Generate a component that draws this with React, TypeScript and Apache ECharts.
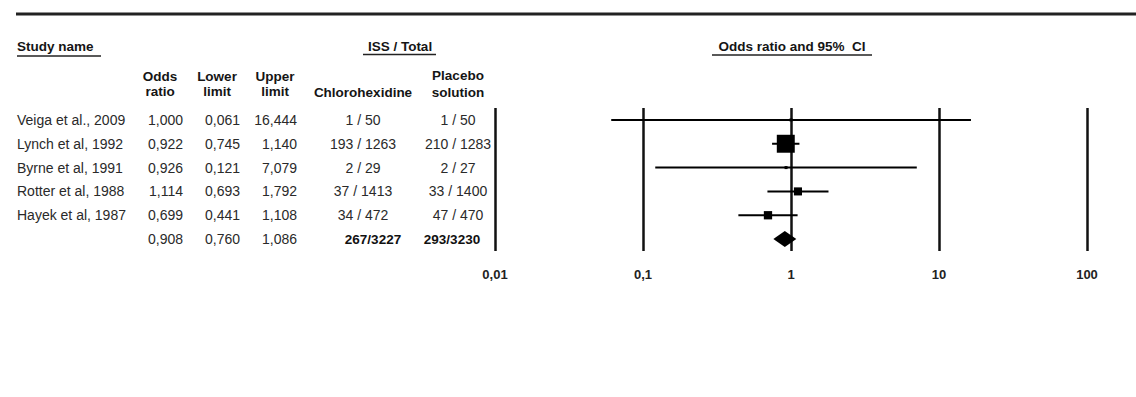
import React, { useEffect, useRef } from "react";
import * as echarts from "echarts";

// Study rows
const studyNames = [
  "Veiga et al., 2009",
  "Lynch et al, 1992",
  "Byrne et al, 1991",
  "Rotter et al, 1988",
  "Hayek et al, 1987",
];
const oddsRatio = [1.0, 0.922, 0.926, 1.114, 0.699];
const lowerLimit = [0.061, 0.745, 0.121, 0.693, 0.441];
const upperLimit = [16.444, 1.14, 7.079, 1.792, 1.108];
// Relative weights (%) that set the box size of each study
const studyWeight = [0.4, 69.8, 0.8, 14.1, 14.9];
const chlorhexidineEvents = ["1 / 50", "193 / 1263", "2 / 29", "37 / 1413", "34 / 472"];
const placeboEvents = ["1 / 50", "210 / 1283", "2 / 27", "33 / 1400", "47 / 470"];

// Pooled result
const pooledOdds = 0.908;
const pooledLower = 0.76;
const pooledUpper = 1.086;
const chlorhexidineTotal = "267/3227";
const placeboTotal = "293/3230";

// Log-scale ticks of the odds-ratio axis
const axisMin = 0.01;
const axisMax = 100;

const FONT = "'Liberation Sans', Arial, sans-serif";
const ROW_COUNT = studyNames.length + 1;
const rowIndex = Array.from({ length: ROW_COUNT }, (_, i) => String(i));

const fmt = (v: number) => v.toFixed(3).replace(".", ",");

const rowStyle = { fontFamily: FONT, fontSize: 14, color: "#2a2a2a" };

function columnAxis(offset: number, align: string, formatter: (v: string, i: number) => string, rich?: any) {
  return {
    type: "category",
    gridIndex: 0,
    position: "left",
    offset,
    inverse: true,
    data: rowIndex,
    axisLine: { show: false },
    axisTick: { show: false },
    splitLine: { show: false },
    axisLabel: {
      ...rowStyle,
      interval: 0,
      margin: 0,
      align,
      formatter,
      rich,
    },
  };
}

export default function App() {
  const ref = useRef<HTMLDivElement>(null);

  useEffect(() => {
    if (!ref.current) return;
    const chart = echarts.init(ref.current, null, { renderer: "svg" });

    const gridLeft = 495;
    const boldRich = {
      bl: { fontFamily: FONT, fontSize: 13.5, fontWeight: "bold", color: "#111", padding: [0, 0, 0, 20] },
      br: { fontFamily: FONT, fontSize: 13.5, fontWeight: "bold", color: "#111", padding: [0, 12, 0, 0] },
    };

    const studyData = studyNames.map((_, i) => [i, oddsRatio[i], lowerLimit[i], upperLimit[i], studyWeight[i]]);

    const headerText = (text: string, x: number, y: number, align = "center") => ({
      type: "text",
      x,
      y,
      style: {
        text,
        fontFamily: FONT,
        fontSize: 13.5,
        fontWeight: "bold",
        fill: "#151515",
        align,
        verticalAlign: "middle",
      },
    });
    const rule = (x1: number, x2: number, y: number, w: number) => ({
      type: "line",
      shape: { x1, y1: y, x2, y2: y },
      style: { stroke: "#222", lineWidth: w },
    });

    chart.setOption({
      animation: false,
      backgroundColor: "#ffffff",
      grid: { left: gridLeft, right: 49, top: 108, bottom: 146, containLabel: false },
      xAxis: {
        type: "log",
        logBase: 10,
        min: axisMin,
        max: axisMax,
        axisLine: { show: false },
        axisTick: { show: false },
        splitLine: {
          show: true,
          showMinLine: true,
          showMaxLine: true,
          lineStyle: { color: "#111", width: 2.5, type: "solid" },
        },
        axisLabel: {
          fontFamily: FONT,
          fontSize: 13,
          fontWeight: "bold",
          color: "#222",
          margin: 17,
          formatter: (v: number) => String(v).replace(".", ","),
        },
      },
      yAxis: [
        columnAxis(gridLeft - 17, "left", (_v, i) => studyNames[i] ?? ""),
        columnAxis(gridLeft - 183, "right", (_v, i) =>
          fmt(i < studyNames.length ? oddsRatio[i] : pooledOdds)
        ),
        columnAxis(gridLeft - 240, "right", (_v, i) =>
          fmt(i < studyNames.length ? lowerLimit[i] : pooledLower)
        ),
        columnAxis(gridLeft - 297, "right", (_v, i) =>
          fmt(i < studyNames.length ? upperLimit[i] : pooledUpper)
        ),
        columnAxis(
          gridLeft - 363,
          "center",
          (_v, i) => (i < studyNames.length ? chlorhexidineEvents[i] : `{bl|${chlorhexidineTotal}}`),
          boldRich
        ),
        columnAxis(
          gridLeft - 458,
          "center",
          (_v, i) => (i < studyNames.length ? placeboEvents[i] : `{br|${placeboTotal}}`),
          boldRich
        ),
      ],
      series: [
        {
          type: "custom",
          name: "studies",
          xAxisIndex: 0,
          yAxisIndex: 0,
          encode: { x: [1, 2, 3], y: 0 },
          data: studyData,
          renderItem: (_params: any, api: any) => {
            const row = api.value(0);
            const c = api.coord([api.value(1), row]);
            const lo = api.coord([api.value(2), row]);
            const hi = api.coord([api.value(3), row]);
            const size = Math.max(3, 2.15 * Math.sqrt(api.value(4)));
            return {
              type: "group",
              children: [
                {
                  type: "line",
                  shape: { x1: lo[0], y1: c[1], x2: hi[0], y2: c[1] },
                  style: { stroke: "#000", lineWidth: 2 },
                },
                {
                  type: "rect",
                  shape: { x: c[0] - size / 2, y: c[1] - size / 2, width: size, height: size },
                  style: { fill: "#000" },
                },
              ],
            };
          },
        },
        {
          type: "custom",
          name: "pooled",
          xAxisIndex: 0,
          yAxisIndex: 0,
          encode: { x: [1, 2, 3], y: 0 },
          data: [[studyNames.length, pooledOdds, pooledLower, pooledUpper]],
          renderItem: (_params: any, api: any) => {
            const row = api.value(0);
            const c = api.coord([api.value(1), row]);
            const lo = api.coord([api.value(2), row]);
            const hi = api.coord([api.value(3), row]);
            const h = 8;
            return {
              type: "polygon",
              shape: {
                points: [
                  [lo[0], c[1]],
                  [c[0], c[1] - h],
                  [hi[0], c[1]],
                  [c[0], c[1] + h],
                ],
              },
              style: { fill: "#000" },
            };
          },
        },
      ],
      graphic: [
        rule(16, 1136, 14, 3.2),
        headerText("Study name", 17, 46, "left"),
        rule(17, 101, 56, 1.6),
        headerText("ISS / Total", 400, 46),
        rule(363, 436, 54.5, 1.6),
        headerText("Odds ratio and 95%  CI", 792, 46),
        rule(712, 872, 55, 1.6),
        headerText("Odds", 160, 76),
        headerText("ratio", 160, 91),
        headerText("Lower", 217, 76),
        headerText("limit", 217, 91),
        headerText("Upper", 275, 76),
        headerText("limit", 275, 91),
        headerText("Chlorohexidine", 363, 92),
        headerText("Placebo", 458, 75),
        headerText("solution", 458, 92),
      ],
    });

    return () => chart.dispose();
  }, []);

  return (
    <div
      ref={ref}
      style={{ position: "absolute", left: 0, top: 0, width: 1136, height: 397, background: "#fff" }}
    />
  );
}
